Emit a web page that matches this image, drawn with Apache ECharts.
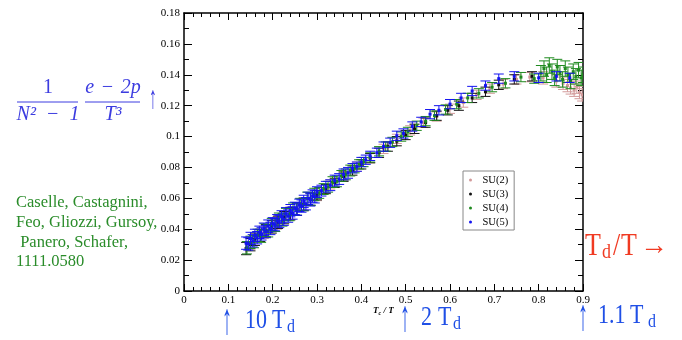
<!DOCTYPE html>
<html>
<head>
<meta charset="utf-8">
<script src="https://cdn.jsdelivr.net/npm/echarts@6/dist/echarts.min.js"></script>
<style>
  html, body { margin: 0; padding: 0; background: #fff; }
  #chart { width: 682px; height: 340px; }
</style>
</head>
<body>
<div id="chart"></div>
<script>
// Trace anomaly (e - 2p)/T^3, normalised by N^2 - 1, against Tc/T for SU(N) gauge theories.

const seriesNames = ['SU(2)', 'SU(3)', 'SU(4)', 'SU(5)'];
const xTicks = [0, 0.1, 0.2, 0.3, 0.4, 0.5, 0.6, 0.7, 0.8, 0.9];
const yTicks = [0, 0.02, 0.04, 0.06, 0.08, 0.1, 0.12, 0.14, 0.16, 0.18];

// SU(2)
const su2T = [0.150, 0.180, 0.210, 0.240, 0.270, 0.300, 0.330, 0.360, 0.390, 0.420, 0.450, 0.480, 0.510, 0.540, 0.570, 0.600,
  0.630, 0.660, 0.690, 0.720, 0.750, 0.780, 0.810, 0.840, 0.855, 0.865, 0.872, 0.880, 0.886, 0.892, 0.898];
const su2Val = [0.0310, 0.0380, 0.0440, 0.0505, 0.0565, 0.0625, 0.0690, 0.0745, 0.0805, 0.0860, 0.0920, 0.0985, 0.1040, 0.1090, 0.1130, 0.1180,
  0.1220, 0.1270, 0.1310, 0.1340, 0.1370, 0.1385, 0.1380, 0.1360, 0.1345, 0.1330, 0.1315, 0.1300, 0.1320, 0.1285, 0.1270];
const su2Err = [0.004, 0.004, 0.004, 0.004, 0.004, 0.004, 0.003, 0.003, 0.003, 0.003, 0.003, 0.003, 0.003, 0.003, 0.003, 0.003,
  0.003, 0.003, 0.003, 0.003, 0.003, 0.003, 0.004, 0.004, 0.004, 0.004, 0.004, 0.004, 0.004, 0.004, 0.004];

// SU(3)
const su3T = [0.140, 0.150, 0.160, 0.172, 0.185, 0.198, 0.212, 0.226, 0.240, 0.255, 0.270, 0.285, 0.300, 0.320, 0.340, 0.360,
  0.380, 0.400, 0.420, 0.440, 0.460, 0.480, 0.500, 0.520, 0.545, 0.570, 0.595, 0.620, 0.650, 0.680, 0.710, 0.745, 0.785];
const su3Val = [0.0275, 0.0300, 0.0335, 0.0360, 0.0390, 0.0415, 0.0445, 0.0475, 0.0500, 0.0530, 0.0560, 0.0595, 0.0620, 0.0660, 0.0700, 0.0740,
  0.0780, 0.0820, 0.0860, 0.0895, 0.0935, 0.0970, 0.1010, 0.1050, 0.1090, 0.1135, 0.1170, 0.1200, 0.1250, 0.1290, 0.1335, 0.1370, 0.1390];
const su3Err = [0.004, 0.004, 0.004, 0.004, 0.004, 0.004, 0.004, 0.004, 0.004, 0.004, 0.004, 0.004, 0.003, 0.003, 0.003, 0.003,
  0.003, 0.003, 0.003, 0.003, 0.003, 0.003, 0.003, 0.003, 0.003, 0.003, 0.003, 0.003, 0.003, 0.003, 0.003, 0.003, 0.003];

// SU(4)
const su4T = [0.142, 0.150, 0.158, 0.166, 0.174, 0.182, 0.190, 0.198, 0.206, 0.214, 0.222, 0.230, 0.238, 0.246, 0.254, 0.262,
  0.270, 0.278, 0.286, 0.294, 0.305, 0.315, 0.325, 0.335, 0.345, 0.355, 0.365, 0.375, 0.385, 0.395, 0.405, 0.420,
  0.440, 0.455, 0.470, 0.490, 0.505, 0.525, 0.545, 0.565, 0.590, 0.615, 0.640, 0.665, 0.695, 0.725, 0.760, 0.790,
  0.805, 0.812, 0.818, 0.824, 0.830, 0.836, 0.842, 0.848, 0.854, 0.860, 0.866, 0.872, 0.878, 0.884, 0.890, 0.896, 0.900];
const su4Val = [0.0280, 0.0315, 0.0320, 0.0360, 0.0355, 0.0395, 0.0390, 0.0430, 0.0425, 0.0465, 0.0460, 0.0495, 0.0495, 0.0530, 0.0530, 0.0560,
  0.0560, 0.0600, 0.0595, 0.0625, 0.0635, 0.0660, 0.0675, 0.0705, 0.0710, 0.0745, 0.0755, 0.0780, 0.0795, 0.0820, 0.0835, 0.0865,
  0.0905, 0.0935, 0.0965, 0.1000, 0.1030, 0.1070, 0.1100, 0.1135, 0.1175, 0.1210, 0.1250, 0.1280, 0.1320, 0.1345, 0.1385, 0.1375,
  0.1410, 0.1440, 0.1400, 0.1460, 0.1420, 0.1380, 0.1450, 0.1410, 0.1370, 0.1440, 0.1400, 0.1360, 0.1420, 0.1390, 0.1430, 0.1380, 0.1400];
const su4Err = [0.004, 0.004, 0.004, 0.004, 0.004, 0.004, 0.004, 0.004, 0.004, 0.004, 0.004, 0.004, 0.004, 0.004, 0.004, 0.004,
  0.004, 0.004, 0.004, 0.004, 0.0035, 0.0035, 0.0035, 0.0035, 0.0035, 0.0035, 0.0035, 0.0035, 0.003, 0.003, 0.003, 0.003,
  0.003, 0.003, 0.003, 0.003, 0.003, 0.003, 0.003, 0.003, 0.003, 0.003, 0.003, 0.003, 0.003, 0.003, 0.003, 0.003,
  0.005, 0.005, 0.005, 0.005, 0.005, 0.005, 0.005, 0.005, 0.005, 0.005, 0.005, 0.005, 0.005, 0.005, 0.005, 0.005, 0.005];

// SU(5)
const su5T = [0.140, 0.145, 0.150, 0.155, 0.160, 0.165, 0.170, 0.175, 0.180, 0.185, 0.190, 0.195, 0.200, 0.205, 0.210, 0.215,
  0.220, 0.225, 0.230, 0.235, 0.240, 0.245, 0.250, 0.255, 0.260, 0.265, 0.270, 0.275, 0.280, 0.285, 0.290, 0.295,
  0.300, 0.310, 0.320, 0.330, 0.340, 0.350, 0.360, 0.370, 0.380, 0.390, 0.400, 0.410, 0.420, 0.435, 0.450, 0.465,
  0.480, 0.495, 0.515, 0.535, 0.555, 0.575, 0.600, 0.625, 0.650, 0.680, 0.710, 0.745, 0.800, 0.840, 0.870];
const su5Val = [0.0310, 0.0305, 0.0340, 0.0325, 0.0360, 0.0345, 0.0380, 0.0370, 0.0400, 0.0385, 0.0420, 0.0405, 0.0435, 0.0430, 0.0455, 0.0450,
  0.0480, 0.0465, 0.0500, 0.0485, 0.0520, 0.0505, 0.0535, 0.0530, 0.0555, 0.0550, 0.0580, 0.0565, 0.0600, 0.0590, 0.0615, 0.0610,
  0.0640, 0.0650, 0.0675, 0.0685, 0.0715, 0.0725, 0.0755, 0.0765, 0.0795, 0.0805, 0.0835, 0.0850, 0.0875, 0.0895, 0.0935, 0.0960,
  0.1005, 0.1020, 0.1065, 0.1095, 0.1145, 0.1170, 0.1210, 0.1250, 0.1295, 0.1330, 0.1375, 0.1390, 0.1380, 0.1390, 0.1380];
const su5Err = [0.004, 0.004, 0.004, 0.004, 0.004, 0.004, 0.004, 0.004, 0.004, 0.004, 0.004, 0.004, 0.004, 0.004, 0.004, 0.004,
  0.004, 0.004, 0.004, 0.004, 0.004, 0.004, 0.004, 0.004, 0.004, 0.004, 0.004, 0.004, 0.004, 0.004, 0.004, 0.004,
  0.0035, 0.0035, 0.0035, 0.0035, 0.0035, 0.0035, 0.0035, 0.0035, 0.003, 0.003, 0.003, 0.003, 0.003, 0.003, 0.003, 0.003,
  0.003, 0.003, 0.003, 0.003, 0.003, 0.003, 0.003, 0.003, 0.003, 0.003, 0.003, 0.003, 0.003, 0.003, 0.003];

const seriesColors = ['#d29a9a', '#111111', '#1f8a1f', '#1414f0'];
const seriesData = [[su2T, su2Val, su2Err], [su3T, su3Val, su3Err], [su4T, su4Val, su4Err], [su5T, su5Val, su5Err]];

const SERIF = '"Liberation Serif", "DejaVu Serif", serif';

// vertical error bar with end caps and a small square marker
function errorBarItem(params, api) {
  const x = api.value(0), y = api.value(1), e = api.value(2);
  const c = api.coord([x, y]);
  const hi = api.coord([x, y + e]);
  const lo = api.coord([x, y - e]);
  const color = api.visual('color');
  const cap = 5;
  const st = { stroke: color, lineWidth: 1 };
  return {
    type: 'group',
    children: [
      { type: 'line', shape: { x1: c[0], y1: hi[1], x2: c[0], y2: lo[1] }, style: st },
      { type: 'line', shape: { x1: c[0] - cap, y1: hi[1], x2: c[0] + cap, y2: hi[1] }, style: st },
      { type: 'line', shape: { x1: c[0] - cap, y1: lo[1], x2: c[0] + cap, y2: lo[1] }, style: st },
      { type: 'rect', shape: { x: c[0] - 1.5, y: c[1] - 1.5, width: 3, height: 3 }, style: { fill: color } }
    ]
  };
}

const series = seriesNames.map((name, i) => {
  const [t, v, e] = seriesData[i];
  return {
    name: name,
    type: 'custom',
    renderItem: errorBarItem,
    clip: true,
    itemStyle: { color: seriesColors[i] },
    encode: { x: 0, y: 1 },
    data: t.map((tv, k) => [tv, v[k], e[k]]),
    z: 2 + i
  };
});

const fmt = v => String(+v.toFixed(2));
const axisLineStyle = { color: '#000', width: 1.5 };

function makeXAxis(pos, labels) {
  return {
    type: 'value', position: pos, min: xTicks[0], max: xTicks[xTicks.length - 1], interval: xTicks[1] - xTicks[0],
    axisLine: { show: true, onZero: false, lineStyle: axisLineStyle },
    axisTick: { show: true, inside: true, length: 7, lineStyle: { color: '#000' } },
    minorTick: { show: true, splitNumber: 5, length: 4, lineStyle: { color: '#000' } },
    splitLine: { show: false },
    axisLabel: { show: labels, formatter: fmt, margin: 4, color: '#000', fontFamily: SERIF, fontSize: 11 }
  };
}
function makeYAxis(pos, labels) {
  return {
    type: 'value', position: pos, min: yTicks[0], max: yTicks[yTicks.length - 1], interval: yTicks[1] - yTicks[0],
    axisLine: { show: true, onZero: false, lineStyle: axisLineStyle },
    axisTick: { show: true, inside: true, length: 8, lineStyle: { color: '#000' } },
    minorTick: { show: true, splitNumber: 2, length: 5, lineStyle: { color: '#000' } },
    splitLine: { show: false },
    axisLabel: { show: labels, formatter: fmt, margin: 4, color: '#000', fontFamily: SERIF, fontSize: 11 }
  };
}

const blue = '#1f4fe6';
const formulaBlue = '#3c3ce0';
const green = '#2a8c2a';
const red = '#f03a22';

// text piece; sy stretches glyphs vertically about the anchor point
function txt(x, y, text, size, color, extra, sy) {
  return {
    type: 'text', x: x, y: y, scaleY: sy || 1,
    style: Object.assign({ text: text, fill: color, fontFamily: SERIF, fontSize: size, verticalAlign: 'middle' }, extra || {})
  };
}
const C = { align: 'center' };
const IC = { align: 'center', fontStyle: 'italic' };

const graphics = [
  // y-axis quantity
  txt(48, 88, '1', 20, formulaBlue, C),
  { type: 'line', shape: { x1: 17, y1: 102, x2: 78, y2: 102 }, style: { stroke: formulaBlue, lineWidth: 1 } },
  txt(48, 115, 'N²\u2002−\u20021', 20, formulaBlue, IC),
  txt(113, 88, 'e\u2004−\u20042p', 20, formulaBlue, IC),
  { type: 'line', shape: { x1: 85, y1: 102, x2: 140, y2: 102 }, style: { stroke: formulaBlue, lineWidth: 1 } },
  txt(113, 115, 'T³', 20, formulaBlue, IC),
  txt(153, 100, '↑', 16, formulaBlue, C, 2),
  // reference
  txt(16, 203, 'Caselle, Castagnini,', 16.5, green),
  txt(16, 223, 'Feo, Gliozzi, Gursoy,', 16.5, green),
  txt(16, 243, ' Panero, Schafer,', 16.5, green),
  txt(16, 262, '1111.0580', 16.5, green),
  // x-axis name
  { type: 'text', x: 373, y: 311, style: {
      text: '{t|T}{s|c}{t| / T}', fontFamily: SERIF, verticalAlign: 'middle', fill: '#000',
      rich: { t: { fontSize: 9, fontStyle: 'italic', fontWeight: 'bold', fontFamily: SERIF },
              s: { fontSize: 6, fontStyle: 'italic', fontWeight: 'bold', fontFamily: SERIF, padding: [5, 0, 0, 0] } } } },
  // right-hand label
  txt(585, 246.5, 'T', 26, red, null, 1.2),
  txt(602, 252, 'd', 18, red, null, 1.2),
  txt(613, 246.5, '/', 26, red, null, 1.2),
  txt(621, 246.5, 'T', 26, red, null, 1.2),
  txt(640, 247, '→', 28, red),
  // temperatures
  txt(227, 322, '↑', 20, blue, C, 2.2),
  txt(245, 321, '10', 22, blue, null, 1.2),
  txt(272, 321, 'T', 22, blue, null, 1.2),
  txt(287, 327, 'd', 16, blue, null, 1.2),
  txt(405, 319, '↑', 20, blue, C, 2.2),
  txt(421, 318, '2', 22, blue, null, 1.2),
  txt(438, 318, 'T', 22, blue, null, 1.2),
  txt(453, 324, 'd', 16, blue, null, 1.2),
  txt(583, 318, '↑', 20, blue, C, 2.2),
  txt(598, 316.5, '1.1', 22, blue, null, 1.2),
  txt(630, 316.5, 'T', 22, blue, null, 1.2),
  txt(648, 322, 'd', 16, blue, null, 1.2)
];

const chart = echarts.init(document.getElementById('chart'), null, { renderer: 'canvas' });
chart.setOption({
  animation: false,
  backgroundColor: '#fff',
  grid: { left: 184, right: 99, top: 13, bottom: 49, containLabel: false },
  xAxis: [makeXAxis('bottom', true), makeXAxis('top', false)],
  yAxis: [makeYAxis('left', true), makeYAxis('right', false)],
  legend: {
    data: seriesNames, orient: 'vertical', left: 463, top: 171,
    icon: 'circle', itemWidth: 14, itemHeight: 3, itemGap: 2,
    padding: [3, 6, 2, 6], borderColor: '#888', borderWidth: 1,
    textStyle: { fontFamily: SERIF, fontSize: 10.5, lineHeight: 12, color: '#000' }
  },
  series: series,
  graphic: graphics
});
</script>
</body>
</html>
